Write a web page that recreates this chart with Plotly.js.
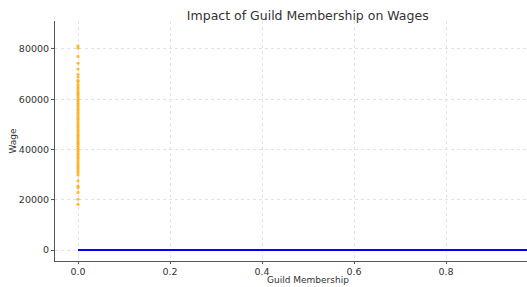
<!DOCTYPE html>
<html><head><meta charset="utf-8">
<script src="https://cdn.plot.ly/plotly-3.0.1.min.js"></script>
<style>html,body{margin:0;padding:0;background:#fff;}#c{width:527px;height:287px;}</style>
</head><body><div id="c"></div>
<script>
const wages = [81200,80300,77000,74300,72000,69900,68800,67500,66900,65800,65000,64200,63300,62500,61800,61000,60200,59400,58600,57900,57100,56300,55600,54800,54000,53200,52400,51700,50900,50100,49300,48600,47800,47000,46200,45500,44700,43900,43100,42400,41600,40800,40000,39300,38500,37700,36900,36200,35400,34600,33800,33000,32300,31500,30700,29800,27500,25400,24800,22900,20200,18200];
const membership = wages.map(() => 0);
const lineX = [0, 1];
const lineY = [0, 0];
const xTicks = [0, 0.2, 0.4, 0.6, 0.8];
const xTickText = ['0.0','0.2','0.4','0.6','0.8'];
const yTicks = [0, 20000, 40000, 60000, 80000];
const yTickText = ['0','20000','40000','60000','80000'];

const data = [
  {x: membership, y: wages, type:'scatter', mode:'markers',
   marker:{color:'rgba(255,165,0,0.75)', size:3.2}, hoverinfo:'skip', showlegend:false},
  {x: lineX, y: lineY, type:'scatter', mode:'lines',
   line:{color:'#0000ff', width:2}, showlegend:false}
];
const layout = {
  width:527, height:287,
  margin:{l:55, r:0, t:21, b:26},
  paper_bgcolor:'#fff', plot_bgcolor:'#fff',
  font:{family:'DejaVu Sans', color:'#333'},
  title:{text:'Impact of Guild Membership on Wages', x:0.584, xanchor:'center', y:0.962, yanchor:'top', font:{size:12.5, color:'#333'}},
  xaxis:{range:[-0.05,0.976], tickvals:xTicks, ticktext:xTickText, showgrid:true, gridcolor:'#e3e3e3', griddash:'dot', gridwidth:1,
    zeroline:false, showline:true, linecolor:'#555', linewidth:1, ticks:'outside', ticklen:2, tickcolor:'#555',
    tickfont:{size:9.5, color:'#333'}},
  yaxis:{range:[-4356,91090], tickvals:yTicks, ticktext:yTickText, showgrid:true, gridcolor:'#e3e3e3', griddash:'dot', gridwidth:1,
    zeroline:false, showline:true, linecolor:'#555', linewidth:1, ticks:'outside', ticklen:3, tickcolor:'#555',
    tickfont:{size:9.5, color:'#333'}},
  annotations:[
    {text:'Guild Membership', xref:'paper', yref:'paper', x:0.536, y:0, xanchor:'center', yanchor:'top', yshift:-12.5,
     borderpad:0, showarrow:false, font:{size:9, color:'#333'}},
    {text:'Wage', xref:'paper', yref:'paper', x:0, y:0.5, xanchor:'center', yanchor:'middle', xshift:-42.5, textangle:-90,
     showarrow:false, font:{size:9, color:'#333'}}
  ]
};
Plotly.newPlot('c', data, layout, {displayModeBar:false, staticPlot:true});
</script></body></html>
